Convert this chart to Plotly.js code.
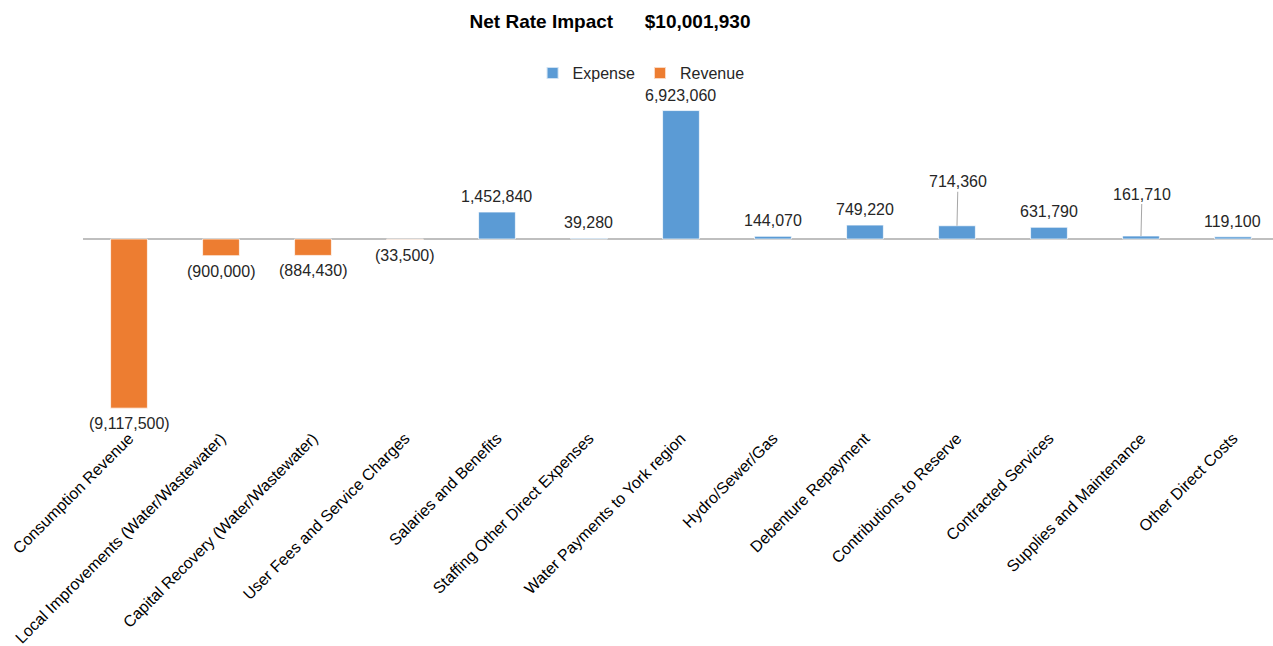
<!DOCTYPE html>
<html>
<head>
<meta charset="utf-8">
<script src="https://cdn.plot.ly/plotly-3.0.1.min.js"></script>
<style>html,body{margin:0;padding:0;background:#fff}#chart{width:1273px;height:646px}</style>
</head>
<body>
<div id="chart"></div>
<script>
const categories = [
  "Consumption Revenue",
  "Local Improvements (Water/Wastewater)",
  "Capital Recovery (Water/Wastewater)",
  "User Fees and Service Charges",
  "Salaries and Benefits",
  "Staffing Other Direct Expenses",
  "Water Payments to York region",
  "Hydro/Sewer/Gas",
  "Debenture Repayment",
  "Contributions to Reserve",
  "Contracted Services",
  "Supplies and Maintenance",
  "Other Direct Costs"
];
const expense = [null, null, null, null, 1452840, 39280, 6923060, 144070, 749220, 714360, 631790, 161710, 119100];
const revenue = [-9117500, -900000, -884430, -33500, null, null, null, null, null, null, null, null, null];
const netRateImpact = 10001930;

// styling: labels lifted with a leader line (pixels above bar top)
const leaderLift = {"Contributions to Reserve": 44, "Supplies and Maintenance": 42};

const FONT = "Liberation Sans, Arial, sans-serif";
const fmt = v => v < 0 ? "(" + Math.abs(v).toLocaleString("en-US") + ")" : v.toLocaleString("en-US");

const traces = [
  {type: "bar", name: "Expense", x: categories, y: expense, width: 0.4, cliponaxis: false,
   marker: {color: "#5B9BD5", line: {color: "rgba(255,255,255,0.7)", width: 1}}, hoverinfo: "x+y"},
  {type: "bar", name: "Revenue", x: categories, y: revenue, width: 0.4, cliponaxis: false,
   marker: {color: "#ED7D31", line: {color: "rgba(255,255,255,0.7)", width: 1}}, hoverinfo: "x+y"}
];

const annotations = [];
categories.forEach((c, i) => {
  const v = expense[i] != null ? expense[i] : revenue[i];
  if (v == null) return;
  if (v < 0) {
    annotations.push({x: c, y: v, xref: "x", yref: "y", text: fmt(v), showarrow: false,
      yanchor: "top", yshift: -5, font: {family: FONT, size: 16, color: "#262626"}});
  } else if (leaderLift[c]) {
    annotations.push({x: c, y: v, xref: "x", yref: "y", text: fmt(v), showarrow: true,
      arrowhead: 0, arrowwidth: 1, arrowcolor: "#A6A6A6", ax: 1, ay: -leaderLift[c],
      standoff: 0, font: {family: FONT, size: 16, color: "#262626"}});
  } else {
    annotations.push({x: c, y: v, xref: "x", yref: "y", text: fmt(v), showarrow: false,
      yanchor: "bottom", yshift: 5, font: {family: FONT, size: 16, color: "#262626"}});
  }
});

const layout = {
  width: 1273, height: 646,
  margin: {l: 83, r: 0, t: 100, b: 221},
  paper_bgcolor: "#fff", plot_bgcolor: "#fff",
  font: {family: FONT, size: 16, color: "#262626"},
  title: {text: "<b>Net Rate Impact\u00A0\u00A0\u00A0\u00A0\u00A0\u00A0$" + netRateImpact.toLocaleString("en-US") + "</b>",
    x: 610 / 1273, xanchor: "center", xref: "container", y: 1 - 21 / 646, yanchor: "middle", yref: "container",
    font: {family: FONT, size: 19, color: "#000"}},
  barmode: "relative",
  showlegend: true,
  legend: {orientation: "h", x: 0.469, xanchor: "center", y: 1.083, yanchor: "middle",
    font: {family: FONT, size: 16, color: "#262626"}, itemwidth: 30, tracegroupgap: 0, itemsizing: "constant"},
  xaxis: {type: "category", range: [-0.5, 12.435], tickangle: -45, showgrid: false, showline: false,
    ticks: "", tickfont: {family: FONT, size: 16, color: "#000"}, fixedrange: true},
  yaxis: {range: [-10027000, 7493000], showgrid: false, showticklabels: false, ticks: "",
    zeroline: true, zerolinecolor: "#BFBFBF", zerolinewidth: 1.5, showline: false, fixedrange: true},
  annotations: annotations
};

Plotly.newPlot("chart", traces, layout, {displayModeBar: false, staticPlot: true});
</script>
</body>
</html>
